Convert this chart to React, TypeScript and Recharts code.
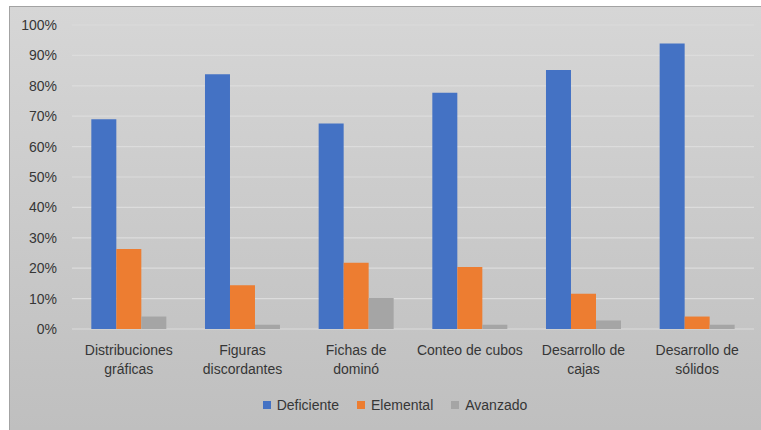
import { BarChart, Bar, XAxis, YAxis, CartesianGrid, Legend } from 'recharts';

const categories = [
  'Distribuciones gráficas',
  'Figuras discordantes',
  'Fichas de dominó',
  'Conteo de cubos',
  'Desarrollo de cajas',
  'Desarrollo de sólidos',
];

// how each category label wraps under the axis
const tickLines: Record<string, string[]> = {
  'Distribuciones gráficas': ['Distribuciones', 'gráficas'],
  'Figuras discordantes': ['Figuras', 'discordantes'],
  'Fichas de dominó': ['Fichas de', 'dominó'],
  'Conteo de cubos': ['Conteo de cubos'],
  'Desarrollo de cajas': ['Desarrollo de', 'cajas'],
  'Desarrollo de sólidos': ['Desarrollo de', 'sólidos'],
};

const deficiente = [0.69, 0.838, 0.676, 0.777, 0.852, 0.939];
const elemental = [0.263, 0.144, 0.218, 0.204, 0.116, 0.041];
const avanzado = [0.041, 0.014, 0.102, 0.014, 0.028, 0.014];

const yTicks = [0, 0.1, 0.2, 0.3, 0.4, 0.5, 0.6, 0.7, 0.8, 0.9, 1];

const series = [
  { key: 'deficiente', name: 'Deficiente', color: '#4472C4' },
  { key: 'elemental', name: 'Elemental', color: '#ED7D31' },
  { key: 'avanzado', name: 'Avanzado', color: '#A5A5A5' },
];

const data = categories.map((name, i) => ({
  name,
  deficiente: deficiente[i],
  elemental: elemental[i],
  avanzado: avanzado[i],
}));

const FONT = '"Liberation Sans", Arial, sans-serif';
const TEXT = '#363636';

const CategoryTick = (props: any) => {
  const { x, y, payload } = props;
  const lines = tickLines[payload.value] || [payload.value];
  return (
    <text x={x} y={y} textAnchor="middle" fill={TEXT} fontSize={14} fontFamily={FONT}>
      {lines.map((line, i) => (
        <tspan key={i} x={x} dy={i === 0 ? 26 : 19}>
          {line}
        </tspan>
      ))}
    </text>
  );
};

const LegendContent = () => (
  <div
    style={{
      height: 36,
      display: 'flex',
      justifyContent: 'center',
      alignItems: 'flex-start',
      fontFamily: FONT,
      fontSize: 14,
      color: TEXT,
      lineHeight: '22px',
      paddingLeft: 16,
    }}
  >
    {series.map((s) => (
      <span key={s.key} style={{ display: 'flex', alignItems: 'center', margin: '0 9px' }}>
        <span style={{ width: 8, height: 8, background: s.color, marginRight: 6 }} />
        {s.name}
      </span>
    ))}
  </div>
);

export default function App() {
  return (
    <>
      <style>{'html, body { overflow: hidden; }'}</style>
      <div
        style={{
          position: 'absolute',
          left: 9,
          top: 6,
          width: 770,
          height: 440,
          borderLeft: '1px solid #a3a3a3',
          borderTop: '1px solid #a3a3a3',
          background: 'linear-gradient(#d6d6d6, #bfbfbf 96%)',
        }}
      >
        <BarChart
          width={751}
          height={423}
          data={data}
          margin={{ top: 18, right: 7, left: 10, bottom: 0 }}
          barCategoryGap="17%"
          barGap={0}
        >
          <CartesianGrid vertical={false} stroke="#dcdcdc" strokeWidth={1.2} />
          <XAxis
            dataKey="name"
            axisLine={false}
            tickLine={false}
            tickSize={0}
            tickMargin={0}
            height={65}
            interval={0}
            tick={<CategoryTick />}
          />
          <YAxis
            width={52}
            domain={[0, 1]}
            ticks={yTicks}
            axisLine={false}
            tickLine={false}
            tickSize={0}
            tickMargin={15}
            tickFormatter={(v: number) => `${Math.round(v * 100)}%`}
            tick={{ fill: TEXT, fontSize: 14, fontFamily: FONT }}
          />
          <Legend verticalAlign="bottom" content={<LegendContent />} />
          {series.map((s) => (
            <Bar key={s.key} dataKey={s.key} name={s.name} fill={s.color} isAnimationActive={false} />
          ))}
        </BarChart>
      </div>
    </>
  );
}
